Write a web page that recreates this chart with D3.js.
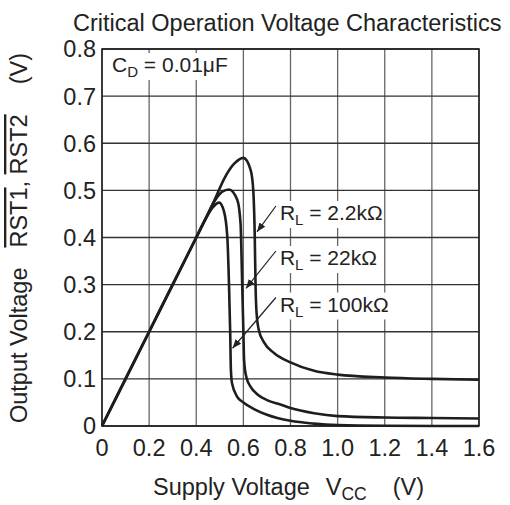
<!DOCTYPE html>
<html>
<head>
<meta charset="utf-8">
<script src="https://cdn.jsdelivr.net/npm/d3@7"></script>
<style>
  body { margin: 0; background: #fff; }
  text { font-family: "Liberation Sans", Arial, Helvetica, sans-serif; fill: #222; }
</style>
</head>
<body>
<svg id="chart" width="510" height="505"></svg>
<script>
// tick values and labels
var xTicks = [0, 0.2, 0.4, 0.6, 0.8, 1.0, 1.2, 1.4, 1.6];
var xTickLabels = ["0", "0.2", "0.4", "0.6", "0.8", "1.0", "1.2", "1.4", "1.6"];
var yTicks = [0, 0.1, 0.2, 0.3, 0.4, 0.5, 0.6, 0.7, 0.8];
var yTickLabels = ["0", "0.1", "0.2", "0.3", "0.4", "0.5", "0.6", "0.7", "0.8"];

// series: [Vcc, Vout]
var load2k2 = [[0, 0], [0.2, 0.2], [0.3, 0.3], [0.4, 0.4], [0.44, 0.44], [0.48, 0.482], [0.52, 0.526],
  [0.56, 0.556], [0.6, 0.569], [0.631, 0.543], [0.642, 0.5], [0.648, 0.41], [0.652, 0.29],
  [0.656, 0.24], [0.665, 0.205], [0.687, 0.178], [0.73, 0.155], [0.8, 0.135], [0.9, 0.117],
  [1.0, 0.109], [1.2, 0.103], [1.4, 0.1], [1.6, 0.098]];
var load22k = [[0, 0], [0.2, 0.2], [0.3, 0.3], [0.4, 0.4], [0.44, 0.44], [0.48, 0.479], [0.51, 0.497],
  [0.539, 0.502], [0.574, 0.48], [0.588, 0.43], [0.595, 0.3], [0.6, 0.2], [0.603, 0.14],
  [0.612, 0.105], [0.631, 0.083], [0.66, 0.067], [0.7, 0.055], [0.76, 0.045], [0.8, 0.038],
  [0.9, 0.027], [1.0, 0.021], [1.2, 0.018], [1.4, 0.017], [1.6, 0.016]];
var load100k = [[0, 0], [0.2, 0.2], [0.3, 0.3], [0.4, 0.4], [0.44, 0.44], [0.47, 0.464], [0.497, 0.474],
  [0.518, 0.455], [0.532, 0.4], [0.539, 0.3], [0.544, 0.2], [0.547, 0.12], [0.552, 0.09],
  [0.574, 0.062], [0.6, 0.05], [0.645, 0.036], [0.7, 0.024], [0.8, 0.011], [0.9, 0.005],
  [1.0, 0.002], [1.2, 0.0005], [1.6, 0]];

var loadNames = ["2.2k\u03a9", "22k\u03a9", "100k\u03a9"];
var loadSeries = [load2k2, load22k, load100k];
// where each label's arrow points, [Vcc, Vout]
var arrowTips = [[0.658, 0.412], [0.611, 0.292], [0.554, 0.165]];

var svg = d3.select("#chart"),
    margin = {top: 49, right: 31, bottom: 79, left: 102},
    width = 510 - margin.left - margin.right,
    height = 505 - margin.top - margin.bottom,
    g = svg.append("g").attr("transform", "translate(" + margin.left + "," + margin.top + ")");

var x = d3.scaleLinear().domain([0, 1.6]).range([0, width]);
var y = d3.scaleLinear().domain([0, 0.8]).range([height, 0]);

// grid
g.selectAll(".vgrid")
    .data(xTicks)
  .enter().append("line")
    .attr("x1", function(d) { return x(d); })
    .attr("x2", function(d) { return x(d); })
    .attr("y1", 0).attr("y2", height)
    .attr("stroke", "#666").attr("stroke-width", 1.3);

g.selectAll(".hgrid")
    .data(yTicks)
  .enter().append("line")
    .attr("y1", function(d) { return y(d); })
    .attr("y2", function(d) { return y(d); })
    .attr("x1", 0).attr("x2", width)
    .attr("stroke", "#333").attr("stroke-width", 1.3);

g.append("rect")
    .attr("width", width).attr("height", height)
    .attr("fill", "none").attr("stroke", "#222").attr("stroke-width", 1.6);

// tick labels
g.selectAll(".xlab")
    .data(xTicks)
  .enter().append("text")
    .attr("x", function(d) { return x(d); })
    .attr("y", height + 30)
    .attr("text-anchor", "middle")
    .style("font-size", "23.5px")
    .text(function(d, i) { return xTickLabels[i]; });

g.selectAll(".ylab")
    .data(yTicks)
  .enter().append("text")
    .attr("x", -6)
    .attr("y", function(d) { return y(d); })
    .attr("dy", "0.36em")
    .attr("text-anchor", "end")
    .style("font-size", "23.5px")
    .text(function(d, i) { return yTickLabels[i]; });

// curves
var line = d3.line()
    .x(function(d) { return x(d[0]); })
    .y(function(d) { return y(d[1]); })
    .curve(d3.curveMonotoneX);

g.selectAll(".curve")
    .data(loadSeries)
  .enter().append("path")
    .attr("d", line)
    .attr("fill", "none")
    .attr("stroke", "#1e1e1e")
    .attr("stroke-width", 2.6)
    .attr("stroke-linejoin", "round");

// arrowhead
svg.append("defs").append("marker")
    .attr("id", "arrow")
    .attr("viewBox", "0 0 10 10")
    .attr("refX", 10).attr("refY", 5)
    .attr("markerWidth", 9).attr("markerHeight", 9)
    .attr("markerUnits", "userSpaceOnUse")
    .attr("orient", "auto")
  .append("path")
    .attr("d", "M0,1 L10,5 L0,9 Z")
    .attr("fill", "#222");

// load labels with white boxes and arrows
var labelX = x(0.755),
    labelY = [220, 265, 311.5];

loadNames.forEach(function(name, i) {
  var t = g.append("text")
      .attr("x", labelX)
      .attr("y", labelY[i] - margin.top)
      .style("font-size", "21px");
  t.append("tspan").text("R");
  t.append("tspan").attr("dy", 5).style("font-size", "15px").text("L");
  t.append("tspan").attr("dy", -5).text(" = " + name);
  var bb = t.node().getBBox();
  g.insert("rect", function() { return t.node(); })
      .attr("x", bb.x - 1).attr("y", bb.y)
      .attr("width", bb.width + 2).attr("height", bb.height)
      .attr("fill", "#fff");
  g.append("line")
      .attr("x1", labelX - 4)
      .attr("y1", labelY[i] - margin.top - 14)
      .attr("x2", x(arrowTips[i][0]))
      .attr("y2", y(arrowTips[i][1]))
      .attr("stroke", "#222").attr("stroke-width", 1.2)
      .attr("marker-end", "url(#arrow)");
});

// C_D label
var cd = g.append("text")
    .attr("x", 10).attr("y", 23)
    .style("font-size", "21px");
cd.append("tspan").text("C");
cd.append("tspan").attr("dy", 5).style("font-size", "15px").text("D");
cd.append("tspan").attr("dy", -5).text(" = 0.01\u03bcF");
var cbb = cd.node().getBBox();
g.insert("rect", function() { return cd.node(); })
    .attr("x", cbb.x - 1).attr("y", cbb.y)
    .attr("width", cbb.width + 2).attr("height", cbb.height)
    .attr("fill", "#fff");

// title
svg.append("text")
    .attr("x", 73).attr("y", 31)
    .style("font-size", "23.5px")
    .text("Critical Operation Voltage Characteristics");

// x axis title
var xt = svg.append("text")
    .attr("x", 153).attr("y", 495)
    .style("font-size", "23.5px");
xt.append("tspan").text("Supply Voltage");
xt.append("tspan").attr("dx", 16).text("V");
xt.append("tspan").attr("dy", 5).style("font-size", "17.5px").text("CC");
xt.append("tspan").attr("dy", -5).attr("dx", 26).text("(V)");

// y axis title
var yt = svg.append("text")
    .attr("transform", "translate(27,238) rotate(-90)")
    .attr("text-anchor", "middle")
    .style("font-size", "23.5px");
yt.append("tspan").text("Output Voltage");
yt.append("tspan").attr("dx", 20).style("text-decoration", "overline").text("RST1");
yt.append("tspan").text(", ");
yt.append("tspan").style("text-decoration", "overline").text("RST2");
yt.append("tspan").attr("dx", 30).text("(V)");
</script>
</body>
</html>
